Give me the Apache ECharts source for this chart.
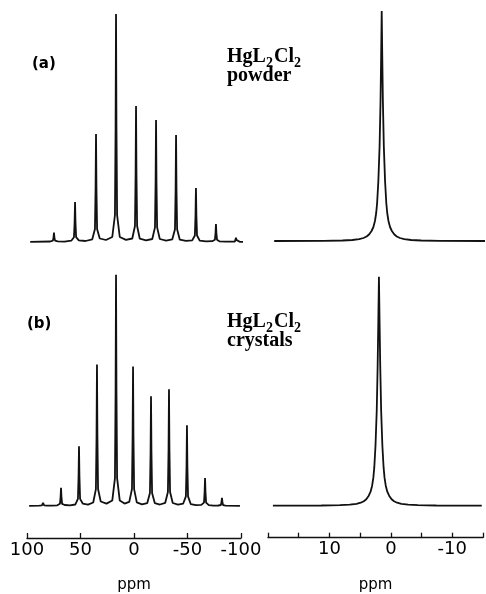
<!DOCTYPE html>
<html><head><meta charset="utf-8">
<script src="https://cdn.jsdelivr.net/npm/echarts@6/dist/echarts.min.js"></script>
<style>html,body{margin:0;padding:0;background:#fff}#c{width:486px;height:594px}</style>
</head><body><div id="c"></div>
<script>
// Tick labels
const leftTickLabels = [100, 50, 0, -50, -100];
const rightTickLabels = [10, 0, -10];

// (a) powder, spinning sideband spectrum: [ppm, intensity]
const powderSidebands = [
  [97,0.2],
  [78.3,0.5],[75.8,1.4],[75.2,4.7],[74.8,9.3],[74.4,4.7],[73.8,1.4],[71.3,0.6],
  [65,0.4],
  [58.6,1.3],[56.1,4.8],[55.5,20],[55.1,40],[54.7,20],[54.1,4.8],[51.6,1.6],
  [45.3,1.0],
  [39,2.7],[36.5,13],[35.9,54],[35.5,108],[35.1,54],[34.5,13],[32,3.5],
  [26.2,2.0],
  [20.3,5],[17.8,27],[17.2,114],[16.8,228],[16.4,114],[15.8,27],[13.3,5],
  [7.5,2.1],
  [1.6,3.5],[-0.9,16],[-1.5,68],[-1.9,136],[-2.3,68],[-2.9,16],[-5.4,3.3],
  [-11.25,1.6],
  [-17.1,3],[-19.6,14.6],[-20.2,61],[-20.6,122],[-21,61],[-21.6,14.6],[-24.1,3],
  [-29.95,1.4],
  [-35.8,2.7],[-38.3,12.8],[-38.9,53],[-39.3,107],[-39.7,53],[-40.3,12.8],[-42.8,2.3],
  [-48.6,1.1],
  [-54.4,1.6],[-56.9,6.5],[-57.5,27],[-57.9,54],[-58.3,27],[-58.9,6.5],[-61.4,1.3],
  [-67.25,0.6],
  [-73.1,0.8],[-75.6,2.2],[-76.2,9],[-76.6,18],[-77,9],[-77.6,2.2],[-80.1,0.6],
  [-85.95,0.3],
  [-91.8,0.4],[-94.3,0.5],[-94.9,2.1],[-95.3,4.3],[-95.7,2.1],[-96.3,0.5],[-98.8,0.2],
  [-103,0.1]
];

// (b) crystals, spinning sideband spectrum: [ppm, intensity]
const crystalSidebands = [
  [98,0.1],
  [88.5,0.3],[86,0.6],[85.4,1.7],[85,3.3],[84.6,1.7],[84,0.6],[81.5,0.4],
  [76.6,0.3],
  [71.7,0.7],[69.2,2.2],[68.6,9.2],[68.2,18.3],[67.8,9.2],[67.2,2.2],[64.7,1],
  [59.8,0.7],
  [54.9,1.5],[52.4,7.2],[51.8,30],[51.4,60],[51,30],[50.4,7.2],[47.9,2.5],
  [43,1.4],
  [38.1,3.5],[35.6,17],[35,71],[34.6,142],[34.2,71],[33.6,17],[31.1,4.5],
  [25.7,2.4],
  [20.3,5.5],[17.8,28],[17.2,116],[16.8,232],[16.4,116],[15.8,28],[13.3,5.5],
  [8.85,2.4],
  [4.4,4.2],[1.9,17],[1.3,70],[0.9,140],[0.5,70],[-0.1,17],[-2.6,3.6],
  [-7.5,1.6],
  [-12.4,3],[-14.9,13],[-15.5,55],[-15.9,110],[-16.3,55],[-16.9,13],[-19.4,3],
  [-24.3,1.5],
  [-29.2,3.2],[-31.7,14],[-32.3,58],[-32.7,117],[-33.1,58],[-33.7,14],[-36.2,3],
  [-41.1,1.3],
  [-46,2.5],[-48.5,9.7],[-49.1,40],[-49.5,81],[-49.9,40],[-50.5,9.7],[-53,2],
  [-57.95,0.8],
  [-62.9,1.1],[-65.4,3.4],[-66,14],[-66.4,28],[-66.8,14],[-67.4,3.4],[-69.9,0.8],
  [-74.3,0.4],
  [-78.7,0.5],[-81.2,1],[-81.8,4.2],[-82.2,8.3],[-82.6,4.2],[-83.2,1],[-85.7,0.3],
  [-99,0.1]
];

// (a) powder, isotropic line (expanded scale)
const powderPeak = [
  [19,0],[11,0.2],[8,0.5],[6.4,1],[5.3,1.9],[4.6,3],[4.1,4.5],[3.7,6.5],[3.3,10],[3.0,14],
  [2.75,20],[2.55,28],[2.4,38],[2.2,60],[2.0,95],[1.85,140],[1.75,185],
  [1.66,230],
  [1.57,185],[1.47,140],[1.32,95],[1.12,60],[0.92,38],[0.77,28],[0.57,20],[0.32,14],
  [0.02,10],[-0.38,6.5],[-0.78,4.5],[-1.28,3],[-1.98,1.9],[-3.08,1],[-4.7,0.5],[-7.7,0.2],[-15,0]
];

// (b) crystals, isotropic line (expanded scale)
const crystalPeak = [
  [19.2,0],[11.3,0.2],[8.3,0.5],[6.7,1],[5.6,1.9],[4.9,3],[4.4,4.5],[4.0,6.5],[3.6,10],[3.3,14],
  [3.05,20],[2.85,28],[2.7,38],[2.5,60],[2.3,95],[2.15,140],[2.04,185],
  [1.94,229],
  [1.84,185],[1.73,140],[1.58,95],[1.38,60],[1.18,38],[1.03,28],[0.83,20],[0.58,14],
  [0.28,10],[-0.12,6.5],[-0.52,4.5],[-1.02,3],[-1.72,1.9],[-2.82,1],[-4.4,0.5],[-7.4,0.2],[-14.8,0]
];

const ink = '#111';
const labelFont = 'DejaVu Sans';

function hiddenX(grid, min, max) {
  return {gridIndex: grid, type: 'value', min: min, max: max, inverse: true, show: false};
}
function shownX(grid, min, max, interval, labels) {
  return {
    gridIndex: grid, type: 'value', min: min, max: max, interval: interval, inverse: true,
    offset: 30,
    axisLine: {show: true, onZero: false, lineStyle: {color: ink, width: 1.3}},
    axisTick: {show: true, inside: true, length: 5, lineStyle: {color: ink, width: 1.3}},
    axisLabel: {show: true, margin: 3, fontSize: 18, fontFamily: labelFont, color: '#000',
      formatter: function (v) { return labels.indexOf(v) >= 0 ? String(v) : ''; }},
    splitLine: {show: false},
    name: 'ppm', nameLocation: 'middle', nameGap: 40,
    nameTextStyle: {fontSize: 15, fontFamily: labelFont, color: '#000'}
  };
}
function hiddenY(grid) {
  return {gridIndex: grid, type: 'value', min: -2, max: 240, show: false};
}
function trace(idx, data) {
  return {type: 'line', xAxisIndex: idx, yAxisIndex: idx, data: data, symbol: 'none',
    smooth: false, animation: false, lineStyle: {color: ink, width: 1.8}};
}

const mainFont = 'bold 20px "Liberation Serif"';
const subFont = 'bold 14px "Liberation Serif"';
function formula(x, baseline, second) {
  return [
    {type: 'text', x: x, y: baseline - 16, style: {text: 'HgL', font: mainFont, fill: '#000'}},
    {type: 'text', x: x + 39, y: baseline - 6.5, style: {text: '2', font: subFont, fill: '#000'}},
    {type: 'text', x: x + 47, y: baseline - 16, style: {text: 'Cl', font: mainFont, fill: '#000'}},
    {type: 'text', x: x + 67, y: baseline - 6.5, style: {text: '2', font: subFont, fill: '#000'}},
    {type: 'text', x: x, y: baseline + 3, style: {text: second, font: mainFont, fill: '#000'}}
  ];
}

const chart = echarts.init(document.getElementById('c'), null, {renderer: 'canvas'});
chart.setOption({
  animation: false,
  backgroundColor: '#fff',
  grid: [
    {left: 27, width: 214, top: 2, height: 242},
    {left: 268, width: 217, top: 1, height: 242},
    {left: 27, width: 214, top: 266.7, height: 242},
    {left: 268, width: 217, top: 265.7, height: 242}
  ],
  xAxis: [
    hiddenX(0, -100, 100),
    hiddenX(1, -15, 20),
    shownX(2, -100, 100, 50, leftTickLabels),
    shownX(3, -15, 20, 5, rightTickLabels)
  ],
  yAxis: [hiddenY(0), hiddenY(1), hiddenY(2), hiddenY(3)],
  series: [
    trace(0, powderSidebands),
    trace(1, powderPeak),
    trace(2, crystalSidebands),
    trace(3, crystalPeak)
  ],
  graphic: [
    {type: 'text', x: 32, y: 64, style: {text: '(a)', font: 'bold 15px "DejaVu Sans"', fill: '#000', align: 'left', verticalAlign: 'middle'}},
    {type: 'text', x: 27, y: 324, style: {text: '(b)', font: 'bold 15px "DejaVu Sans"', fill: '#000', align: 'left', verticalAlign: 'middle'}}
  ].concat(formula(227, 63, 'powder'), formula(227, 328, 'crystals'))
});
</script></body></html>
